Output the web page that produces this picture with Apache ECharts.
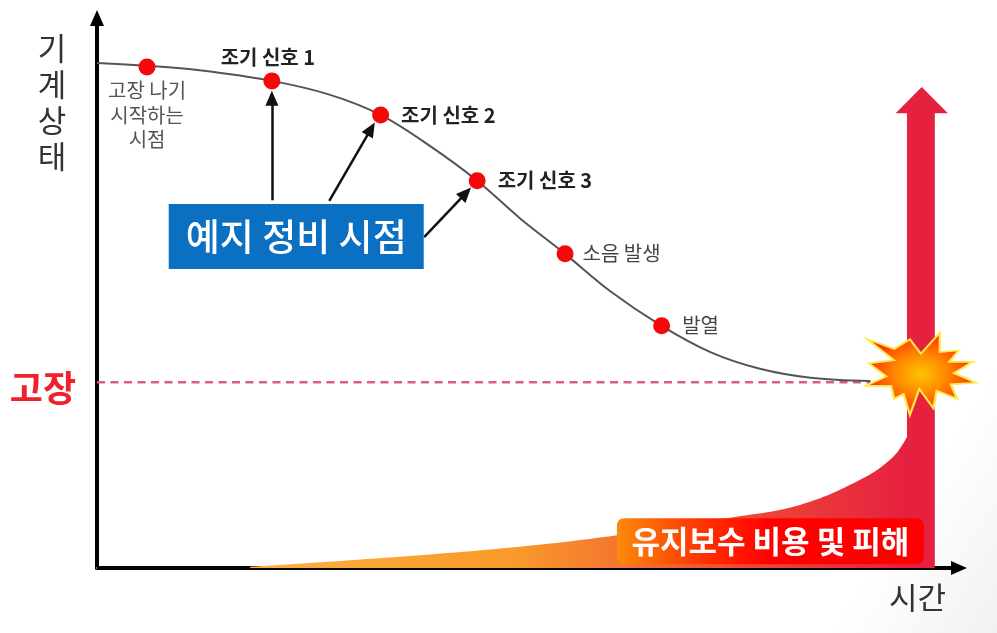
<!DOCTYPE html>
<html>
<head>
<meta charset="utf-8">
<style>html,body{margin:0;padding:0;background:#fff}#c{width:997px;height:633px}</style>
<script src="https://cdn.jsdelivr.net/npm/echarts@6/dist/echarts.min.js"></script>
</head>
<body>
<div id="c"></div>
<script>
const FONT = '"Noto Sans CJK KR"';
// Machine condition curve [time, condition]
const conditionCurve = [[0,90.5],[5.75,90.0],[11.8,89.2],[20.1,87.3],[26.8,84.8],[32.6,81.2],[38.3,75.6],[43.7,69.4],[48.6,62.7],[53.8,56.3],[59.0,49.6],[64.9,43.4],[70.5,38.7],[76.2,35.7],[82.0,34.1],[88.9,33.5]];
// Named events on the curve
const eventPoints = [[5.75,89.8],[20.1,87.3],[32.6,81.2],[43.7,69.4],[53.8,56.3],[64.9,43.4]];
const eventLabels = ['고장 나기\n시작하는\n시점','조기 신호 1','조기 신호 2','조기 신호 3','소음 발생','발열'];
// Failure threshold
const failureLevel = 33.3;
const failureLabelLevel = 32.2;
const failureEndTime = 88.9;
// Maintenance cost and damage curve
const costCurve = [[17.6,0.2],[42.1,2.9],[59,5.7],[73.1,9.1],[80.8,11.3],[87.7,15.8],[91.5,19.9],[93.2,23.8]];
const costArrowOutline = [[93.1,0],[93.1,81.5],[91.8,81.5],[94.8,86.2],[97.8,81.5],[96.3,81.5],[96.3,0]];
// Prediction arrows [from, to]
const predictionArrows = [[[20.1,65.9],[20.1,84.2]],[[26.7,65.8],[31.5,78.7]],[[37.6,59.3],[42.4,67.2]]];
const predictionLabel = '예지 정비 시점';
const predictionAnchor = [22.9,59.4];
const costLabel = '유지보수 비용 및 피해';
const costAnchor = [77.4,4.8];
const burstAnchor = [94.7,34.8];
const yAxisName = '기\n계\n상\n태';
const xAxisName = '시간';
const failureLabel = '고장';

const burstPath = 'path://M795,55 L880,85 L930,55 L965,100 L1025,35 L1025,95 L1085,90 L1055,125 L1130,125 L1070,160 L1140,190 L1060,195 L1080,240 L1015,215 L1005,270 L960,210 L930,290 L910,225 L880,240 L870,200 L790,200 L855,170 L800,130 L880,120 Z';
const roundBox = 'path://M8,0 H299 Q307,0 307,8 V38 Q307,46 299,46 H8 Q0,46 0,38 V8 Q0,0 8,0 Z';

const labelStyles = [
  {position:'bottom',distance:3,color:'#555',fontSize:20,lineHeight:24.5,fontWeight:400},
  {position:'top',distance:5,offset:[-4,0],color:'#222',fontSize:20,fontWeight:700},
  {position:'right',distance:12,color:'#222',fontSize:20,fontWeight:700},
  {position:'right',distance:12,color:'#222',fontSize:20,fontWeight:700},
  {position:'right',distance:9,color:'#444',fontSize:20,fontWeight:400},
  {position:'right',distance:12,color:'#444',fontSize:20,fontWeight:400}
];

const chart = echarts.init(document.getElementById('c'), null, {renderer:'canvas'});
chart.setOption({
  animation:false,
  backgroundColor:new echarts.graphic.LinearGradient(0,0,1,1,[{offset:0,color:'#fff'},{offset:0.88,color:'#fff'},{offset:1,color:'#f1f1f1'}]),
  textStyle:{fontFamily:FONT},
  grid:{left:97,right:38,top:18,bottom:65},
  xAxis:{type:'value',min:0,max:99.08,splitLine:{show:false},axisTick:{show:false},axisLabel:{show:false},
    axisLine:{onZero:false,symbol:['none','triangle'],symbolSize:[14,16],lineStyle:{color:'#000',width:4}},
    name:xAxisName,nameLocation:'end',nameGap:-8,
    nameTextStyle:{fontFamily:FONT,fontSize:31,color:'#333',align:'right',verticalAlign:'top',padding:[14,5,0,0]}},
  yAxis:{type:'value',min:0,max:98.57,splitLine:{show:false},axisTick:{show:false},
    axisLabel:{show:true,customValues:[failureLabelLevel],formatter:()=>failureLabel,margin:21,color:'#f0202c',fontFamily:FONT,fontSize:36,fontWeight:700},
    axisLine:{onZero:false,symbol:['none','triangle'],symbolSize:[14,16],lineStyle:{color:'#000',width:4}},
    name:yAxisName,nameLocation:'end',nameGap:-12,
    nameTextStyle:{fontFamily:FONT,fontSize:31,lineHeight:36,color:'#333',align:'center',verticalAlign:'top',padding:[0,90,0,0]}},
  series:[
    {type:'line',name:'눈금',data:[[-2.5,0],[0,0]],clip:false,symbol:'none',lineStyle:{color:'#dc8ea8',width:1.5},z:1},
    {type:'line',name:'유지보수 비용 및 피해',data:costCurve,smooth:0.4,symbol:'none',lineStyle:{width:0},z:2,
      areaStyle:{opacity:1,color:new echarts.graphic.LinearGradient(0,0,1,0,[{offset:0,color:'#fbb040'},{offset:0.4,color:'#f99a2a'},{offset:0.75,color:'#ee4a36'},{offset:1,color:'#e6203f'}])}},
    {type:'custom',name:'비용 화살표',coordinateSystem:'cartesian2d',data:[0],z:2,
      renderItem:(p,api)=>({type:'polygon',shape:{points:costArrowOutline.map(c=>api.coord(c))},style:{fill:'#e6213f'}})},
    {type:'line',name:'고장',data:[[0,failureLevel],[failureEndTime,failureLevel]],symbol:'none',lineStyle:{color:'#d9607c',width:2.5,type:[8,5.5]},z:3},
    {type:'line',name:'기계 상태',data:conditionCurve,smooth:0.35,symbol:'none',lineStyle:{color:'#555',width:2},z:4},
    {type:'scatter',name:'폭발',data:[burstAnchor],symbol:burstPath,symbolSize:[110,82],z:5,silent:true,
      itemStyle:{opacity:1,color:new echarts.graphic.RadialGradient(0.5,0.5,0.5,[{offset:0,color:'#ffc400'},{offset:0.45,color:'#ff8a00'},{offset:1,color:'#ff2a00'}]),borderColor:'#ffe84a',borderWidth:2}},
    {type:'scatter',name:'시점',data:eventPoints.map((v,i)=>({value:v,label:Object.assign({show:true,formatter:eventLabels[i],fontFamily:FONT},labelStyles[i])})),symbolSize:17,itemStyle:{opacity:1,color:'#f40808'},z:6},
    {type:'line',name:'예지 화살표',data:[],z:5,
      markLine:{silent:true,symbol:['none','triangle'],symbolSize:[13,15],label:{show:false},lineStyle:{color:'#111',width:2.5,type:'solid'},
        data:predictionArrows.map(a=>[{coord:a[0]},{coord:a[1]}])}},
    {type:'scatter',name:'예지 정비',data:[predictionAnchor],symbol:'rect',symbolSize:[255,65],itemStyle:{opacity:1,color:'#0b6fc2'},z:7,
      label:{show:true,position:'inside',formatter:predictionLabel,color:'#fff',fontFamily:FONT,fontSize:37,fontWeight:500}},
    {type:'scatter',name:'비용 라벨',data:[costAnchor],symbol:roundBox,symbolSize:[307,46],z:7,
      itemStyle:{opacity:1,color:new echarts.graphic.LinearGradient(0,0,1,0,[{offset:0,color:'#fb8a0a'},{offset:0.3,color:'#ff2c00'},{offset:0.5,color:'#ff0000'},{offset:1,color:'#ff0000'}])},
      label:{show:true,position:'inside',formatter:costLabel,color:'#fff',fontFamily:FONT,fontSize:31,fontWeight:700}}
  ]
});
</script>
</body>
</html>
